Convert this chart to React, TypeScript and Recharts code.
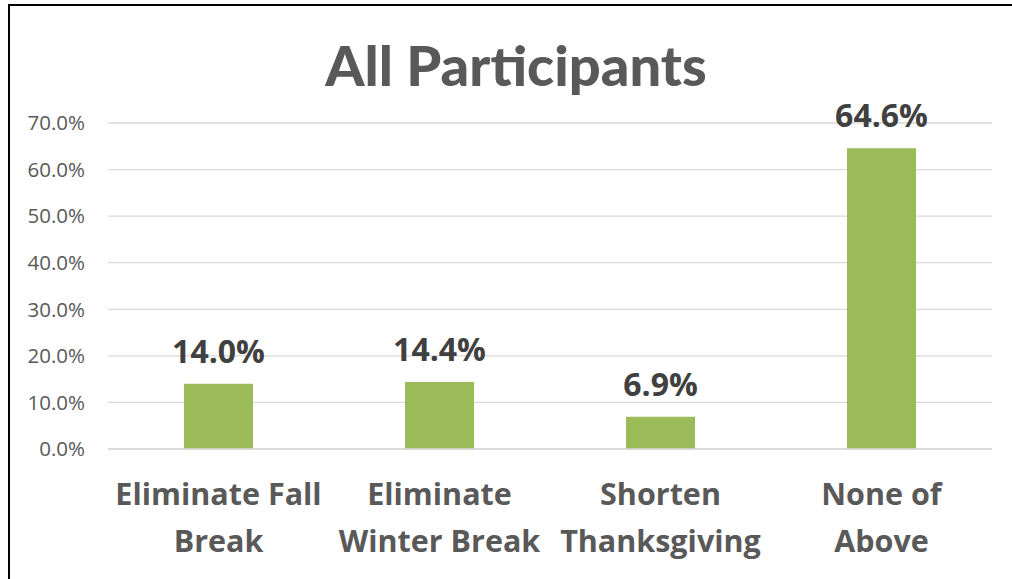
import React from "react";
import { BarChart, Bar, XAxis, YAxis, CartesianGrid, LabelList } from "recharts";

const categories = ["Eliminate Fall Break", "Eliminate Winter Break", "Shorten Thanksgiving", "None of Above"];
const labelLines = [
  ["Eliminate Fall", "Break"],
  ["Eliminate", "Winter Break"],
  ["Shorten", "Thanksgiving"],
  ["None of", "Above"],
];
const values = [14.0, 14.4, 6.9, 64.6];
const yTicks = [0, 10, 20, 30, 40, 50, 60, 70];
const title = "All Participants";

const data = categories.map((c, i) => ({ name: c, value: values[i] }));

const CatTick = (props: any) => {
  const { x, y, payload } = props;
  const idx = categories.indexOf(payload.value);
  const lines = labelLines[idx] || [payload.value];
  return (
    <text
      x={x}
      y={y + 56}
      textAnchor="middle"
      fill="#595959"
      fontFamily="'Open Sans', sans-serif"
      fontWeight={700}
      fontSize={30.5}
    >
      {lines.map((l, i) => (
        <tspan key={i} x={x} dy={i === 0 ? 0 : 47}>
          {l}
        </tspan>
      ))}
    </text>
  );
};

export default function App() {
  return (
    <div
      style={{
        position: "absolute",
        left: 0,
        top: 0,
        width: 1012,
        height: 579,
        overflow: "hidden",
        background: "#fff",
      }}
    >
      <div
        style={{
          position: "absolute",
          left: 8,
          top: 4,
          width: 1200,
          height: 800,
          border: "2px solid #000",
          boxSizing: "border-box",
        }}
      />
      <svg
        width={1012}
        height={110}
        style={{ position: "absolute", left: 0, top: 0, pointerEvents: "none" }}
      >
        <text
          x={516}
          y={86}
          textAnchor="middle"
          fill="#595959"
          fontFamily="Lato, sans-serif"
          fontWeight={900}
          fontSize={56}
        >
          {title}
        </text>
      </svg>
      <div style={{ position: "absolute", left: 0, top: 0 }}>
        <BarChart
          width={1012}
          height={579}
          data={data}
          margin={{ top: 123, right: 20, bottom: 0, left: 0 }}
          barCategoryGap={0}
        >
          <CartesianGrid vertical={false} stroke="#D9D9D9" strokeWidth={1.3} />
          <XAxis
            dataKey="name"
            height={130}
            axisLine={{ stroke: "#D9D9D9", strokeWidth: 1.3 }}
            tickLine={false}
            tickSize={0}
            tickMargin={0}
            interval={0}
            tick={<CatTick />}
          />
          <YAxis
            width={108}
            domain={[0, 70]}
            ticks={yTicks}
            axisLine={false}
            tickLine={false}
            tickSize={0}
            tickMargin={23}
            interval={0}
            tickFormatter={(v: number) => `${v.toFixed(1)}%`}
            tick={{ fill: "#595959", fontSize: 20.5, fontFamily: "'Open Sans', sans-serif" }}
          />
          <Bar dataKey="value" fill="#9BBB59" barSize={69} isAnimationActive={false}>
            <LabelList
              dataKey="value"
              position="top"
              offset={21}
              formatter={(v: number) => `${v.toFixed(1)}%`}
              style={{
                fill: "#404040",
                fontSize: 32,
                fontWeight: 700,
                fontFamily: "'Open Sans', sans-serif",
              }}
            />
          </Bar>
        </BarChart>
      </div>
    </div>
  );
}
